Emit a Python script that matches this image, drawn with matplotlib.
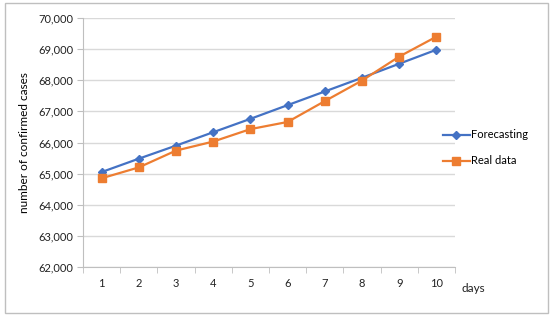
import matplotlib.pyplot as plt
import numpy as np
from matplotlib.patches import Rectangle

# data
days = [1, 2, 3, 4, 5, 6, 7, 8, 9, 10]
forecasting = [65050, 65480, 65900, 66330, 66760, 67200, 67640, 68080, 68530, 68980]
real_data = [64850, 65200, 65740, 66030, 66430, 66660, 67330, 67990, 68760, 69400]
yticks = [62000, 63000, 64000, 65000, 66000, 67000, 68000, 69000, 70000]

plt.rcParams['font.family'] = ['Lato', 'DejaVu Sans']

fig = plt.figure(figsize=(5.5, 3.18), dpi=100)
ax = fig.add_axes([83 / 550, 1 - 267 / 318, (455 - 83) / 550, (267 - 18) / 318])

blue = '#4472C4'
orange = '#ED7D31'

ax.plot(days, forecasting, color=blue, lw=1.6, marker='D', ms=4, label='Forecasting')
ax.plot(days, real_data, color=orange, lw=1.6, marker='s', ms=5.5, label='Real data')

ax.set_xlim(0.5, 10.5)
ax.set_ylim(62000, 70000)
ax.set_yticks(yticks)
ax.set_yticklabels([f'{v:,}' for v in yticks])
ax.set_xticks(days)
ax.set_xticks(np.arange(0.5, 11, 1), minor=True)
ax.tick_params(axis='x', which='major', length=0, pad=8)
ax.tick_params(axis='x', which='minor', length=4, color='#bfbfbf')
ax.tick_params(axis='y', length=4, color='#bfbfbf', pad=3)
ax.tick_params(labelsize=8, labelcolor='#222222')

ax.grid(axis='y', color='#d9d9d9', lw=1)
ax.set_axisbelow(True)
for s in ['top', 'right']:
    ax.spines[s].set_visible(False)
for s in ['left', 'bottom']:
    ax.spines[s].set_color('#bfbfbf')

ax.set_ylabel('number of confirmed cases', fontsize=8.5, labelpad=6)
fig.text(461 / 550, 1 - 289 / 318, 'days', fontsize=8.5, va='center', color='#222222')

ax.legend(loc='center left', bbox_to_anchor=(443 / 550, 1 - 148 / 318),
          bbox_transform=fig.transFigure, frameon=False, fontsize=8,
          borderpad=0, borderaxespad=0, handlelength=2.4, handletextpad=0.15,
          labelspacing=1.35)

# outer chart border
fig.patches.append(Rectangle((5 / 550, 5 / 318), 543 / 550, 310 / 318, transform=fig.transFigure,
                             fill=False, edgecolor='#bfbfbf', lw=1))

fig.savefig('out.png', dpi=100)
